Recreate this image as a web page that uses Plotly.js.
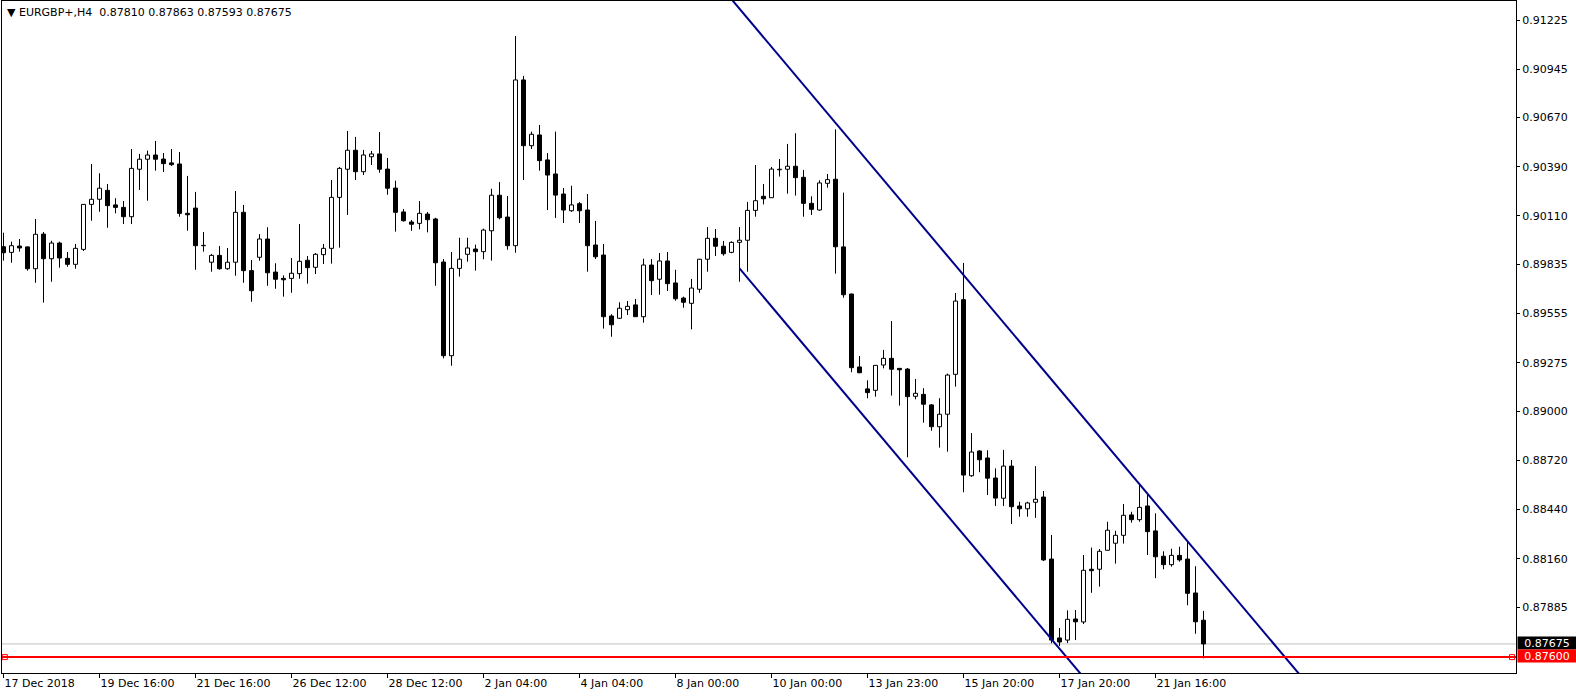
<!DOCTYPE html>
<html><head><meta charset="utf-8">
<script src="https://cdn.plot.ly/plotly-3.0.1.min.js"></script>
<style>html,body{margin:0;padding:0;background:#fff;}#chart{width:1576px;height:700px;}</style>
</head><body><div id="chart"></div>
<script>
const symbolName = "EURGBP+,H4";

const openP = [0.89935,0.89903,0.89939,0.89934,0.89810,0.90007,0.89867,0.89956,0.89869,0.89835,
0.89920,0.90176,0.90205,0.90256,0.90173,0.90159,0.90106,0.90376,0.90433,0.90457,
0.90434,0.90412,0.90406,0.90125,0.90155,0.89943,0.89847,0.89886,0.89810,0.89847,
0.90131,0.89799,0.89875,0.89979,0.89791,0.89755,0.89755,0.89782,0.89858,0.89818,
0.89890,0.89926,0.90216,0.90376,0.90484,0.90362,0.90447,0.90463,0.90377,0.90269,
0.90133,0.90076,0.90068,0.90121,0.90093,0.89848,0.89315,0.89812,0.89892,0.89922,
0.89907,0.90026,0.90228,0.90104,0.89941,0.90884,0.90510,0.90571,0.90429,0.90349,
0.90235,0.90140,0.90180,0.90144,0.89945,0.89888,0.89541,0.89528,0.89577,0.89604,
0.89537,0.89831,0.89750,0.89854,0.89729,0.89643,0.89613,0.89693,0.89864,0.89983,
0.89938,0.89903,0.89960,0.89972,0.90142,0.90222,0.90214,0.90373,0.90376,0.90393,
0.90330,0.90182,0.90144,0.90296,0.90319,0.89934,0.89666,0.89251,0.89126,0.89118,
0.89262,0.89300,0.89243,0.89239,0.89084,0.89095,0.89035,0.88911,0.88982,0.89209,
0.89634,0.88632,0.88773,0.88733,0.88619,0.88504,0.88687,0.88460,0.88444,0.88481,
0.88511,0.88158,0.87709,0.87697,0.87817,0.87800,0.88100,0.88100,0.88208,0.88248,
0.88293,0.88409,0.88382,0.88460,0.88318,0.88174,0.88126,0.88179,0.88158,0.87965,
0.87810];
const highP = [0.90015,0.89964,0.89979,0.89936,0.90093,0.90019,0.89969,0.89964,0.89905,0.89951,
0.90178,0.90406,0.90353,0.90292,0.90211,0.90195,0.90491,0.90463,0.90482,0.90537,
0.90468,0.90491,0.90474,0.90338,0.90247,0.90019,0.89894,0.89939,0.89928,0.90252,
0.90173,0.89860,0.90007,0.90046,0.89841,0.89772,0.89871,0.90064,0.89882,0.89899,
0.89951,0.90315,0.90389,0.90594,0.90560,0.90486,0.90480,0.90588,0.90440,0.90311,
0.90150,0.90087,0.90195,0.90133,0.90100,0.89865,0.89905,0.89986,0.89986,0.89947,
0.90038,0.90265,0.90303,0.90224,0.91134,0.90907,0.90590,0.90628,0.90468,0.90590,
0.90269,0.90282,0.90190,0.90235,0.90082,0.89951,0.89551,0.89619,0.89626,0.89638,
0.89867,0.89865,0.89899,0.89905,0.89804,0.89651,0.89752,0.89866,0.90047,0.90036,
0.89968,0.89966,0.90047,0.90190,0.90400,0.90292,0.90389,0.90434,0.90520,0.90581,
0.90372,0.90222,0.90313,0.90349,0.90603,0.90243,0.89668,0.89313,0.89175,0.89262,
0.89348,0.89512,0.89245,0.89245,0.89183,0.89130,0.89040,0.89073,0.89213,0.89672,
0.89843,0.88875,0.88777,0.88777,0.88674,0.88779,0.88722,0.88484,0.88484,0.88687,
0.88545,0.88295,0.87766,0.87866,0.87868,0.88181,0.88223,0.88215,0.88370,0.88319,
0.88471,0.88427,0.88585,0.88528,0.88418,0.88202,0.88217,0.88228,0.88262,0.88117,
0.87863];
const lowP = [0.89856,0.89844,0.89907,0.89799,0.89730,0.89617,0.89736,0.89816,0.89821,0.89810,
0.89911,0.90083,0.90134,0.90043,0.90125,0.90064,0.90064,0.90258,0.90197,0.90368,
0.90360,0.90395,0.90106,0.90026,0.89804,0.89907,0.89793,0.89804,0.89804,0.89770,
0.89730,0.89622,0.89856,0.89713,0.89696,0.89651,0.89673,0.89753,0.89725,0.89780,
0.89837,0.89839,0.89930,0.90116,0.90315,0.90343,0.90400,0.90356,0.90231,0.90021,
0.90078,0.90026,0.90034,0.90017,0.89713,0.89300,0.89258,0.89765,0.89850,0.89799,
0.89864,0.89856,0.90091,0.89918,0.89901,0.90315,0.90491,0.90368,0.90144,0.90099,
0.90070,0.90133,0.90070,0.89793,0.89865,0.89469,0.89423,0.89524,0.89547,0.89535,
0.89503,0.89660,0.89662,0.89683,0.89628,0.89588,0.89465,0.89673,0.89793,0.89882,
0.89884,0.89898,0.89736,0.89793,0.90106,0.90176,0.90212,0.90334,0.90237,0.90226,
0.90106,0.90116,0.90140,0.90271,0.89782,0.89645,0.89221,0.89216,0.89073,0.89082,
0.89243,0.89088,0.89031,0.88737,0.89067,0.88934,0.88888,0.88792,0.88769,0.89139,
0.88538,0.88626,0.88652,0.88522,0.88460,0.88460,0.88357,0.88399,0.88399,0.88392,
0.88147,0.87679,0.87663,0.87680,0.87697,0.87788,0.87966,0.88001,0.88206,0.88132,
0.88246,0.88365,0.88370,0.88181,0.88049,0.88100,0.88115,0.88143,0.87895,0.87733,
0.87593];
const closeP = [0.89901,0.89941,0.89928,0.89810,0.90006,0.89867,0.89956,0.89871,0.89835,0.89926,
0.90176,0.90205,0.90268,0.90169,0.90159,0.90106,0.90381,0.90433,0.90457,0.90433,
0.90408,0.90402,0.90125,0.90117,0.89941,0.89941,0.89886,0.89810,0.89847,0.90131,
0.89799,0.89685,0.89979,0.89787,0.89750,0.89747,0.89784,0.89852,0.89816,0.89892,
0.89926,0.90216,0.90381,0.90484,0.90362,0.90457,0.90463,0.90376,0.90268,0.90131,
0.90083,0.90063,0.90125,0.90089,0.89844,0.89315,0.89812,0.89864,0.89928,0.89907,
0.90030,0.90228,0.90100,0.89941,0.90884,0.90510,0.90575,0.90425,0.90343,0.90229,
0.90144,0.90173,0.90140,0.89941,0.89878,0.89537,0.89491,0.89585,0.89596,0.89537,
0.89831,0.89742,0.89854,0.89725,0.89639,0.89619,0.89700,0.89864,0.89983,0.89938,
0.89895,0.89960,0.89972,0.90142,0.90197,0.90208,0.90377,0.90376,0.90393,0.90328,
0.90182,0.90148,0.90298,0.90317,0.89935,0.89662,0.89247,0.89218,0.89105,0.89260,
0.89300,0.89238,0.89235,0.89082,0.89101,0.89039,0.88911,0.88982,0.89205,0.89626,
0.88636,0.88767,0.88723,0.88618,0.88505,0.88687,0.88456,0.88444,0.88477,0.88498,
0.88153,0.87697,0.87686,0.87815,0.87801,0.88094,0.88092,0.88202,0.88322,0.88293,
0.88407,0.88382,0.88452,0.88314,0.88171,0.88126,0.88179,0.88153,0.87963,0.87801,
0.87675];

const timeTickBars = [0,12,24,36,48,60,72,84,96,108,120,132,144];
const timeTickLabels = ["17 Dec 2018","19 Dec 16:00","21 Dec 16:00","26 Dec 12:00","28 Dec 12:00",
  "2 Jan 04:00","4 Jan 04:00","8 Jan 00:00","10 Jan 00:00","13 Jan 23:00","15 Jan 20:00",
  "17 Jan 20:00","21 Jan 16:00"];
const priceTicks = [0.91225,0.90945,0.90670,0.90390,0.90110,0.89835,0.89555,0.89275,0.89000,
  0.88720,0.88440,0.88160,0.87885];

// channel anchors (bar index, price)
const upperLineBars = [104, 150];
const upperLinePrices = [0.90640, 0.88151];
const lowerLineBars = [92, 150];
const lowerLinePrices = [0.89812, 0.86674];
const levelPrice = 0.87600;

const n = openP.length;
const bars = openP.map((_, i) => i);
const lastClose = closeP[n - 1];
const xRange = [-0.1875, 189.0625];
const yRange = [0.875096, 0.913333];
const F = "DejaVu Sans, Verdana, sans-serif";

// wicks: split into lower and upper parts so they never cross the body
const wx = [], wy = [];
for (let i = 0; i < n; i++) {
  const bLo = Math.min(openP[i], closeP[i]), bHi = Math.max(openP[i], closeP[i]);
  if (lowP[i] < bLo) { wx.push(i, i, null); wy.push(lowP[i], bLo, null); }
  if (highP[i] > bHi) { wx.push(i, i, null); wy.push(bHi, highP[i], null); }
}
const base = [], height = [], fill = [];
for (let i = 0; i < n; i++) {
  base.push(Math.min(openP[i], closeP[i]));
  height.push(Math.max(Math.abs(closeP[i] - openP[i]), 0.000012));
  fill.push(closeP[i] > openP[i] ? "#ffffff" : "#000000");
}
function extend(xs, ys, x0, x1) {
  const s = (ys[1] - ys[0]) / (xs[1] - xs[0]);
  return { x: [x0, x1], y: [ys[0] + s * (x0 - xs[0]), ys[0] + s * (x1 - xs[0])] };
}
const up = extend(upperLineBars, upperLinePrices, 80, 200);
const lo = extend(lowerLineBars, lowerLinePrices, lowerLineBars[0], 200);

const traces = [
  { type: "bar", x: bars, base: base, y: height, width: 0.5,
    marker: { color: fill, line: { color: "#000", width: 1 } }, hoverinfo: "skip" },
  { type: "scatter", mode: "lines", x: wx, y: wy, line: { color: "#000", width: 1 }, hoverinfo: "skip" },
  { type: "scatter", mode: "lines", x: up.x, y: up.y, line: { color: "#00008B", width: 2 }, hoverinfo: "skip" },
  { type: "scatter", mode: "lines", x: lo.x, y: lo.y, line: { color: "#00008B", width: 2 }, hoverinfo: "skip" },
  { type: "scatter", mode: "markers", x: [xRange[0] + 0.35, xRange[1] - 0.5], y: [levelPrice, levelPrice],
    marker: { symbol: "square", size: 5, color: "#fff", line: { color: "#ff0000", width: 1 } }, cliponaxis: false, hoverinfo: "skip" }
];

const fmt = v => v.toFixed(5);
const layout = {
  width: 1576, height: 700,
  margin: { l: 2, r: 60, t: 1, b: 27 },
  paper_bgcolor: "#fff", plot_bgcolor: "#fff",
  showlegend: false,
  xaxis: {
    range: xRange, tickvals: timeTickBars, ticktext: timeTickLabels,
    ticks: "outside", ticklen: 4, tickcolor: "#000", tickwidth: 1,
    ticklabelposition: "outside right",
    showgrid: false, zeroline: false, showline: true, linecolor: "#000", linewidth: 1, mirror: true,
    tickfont: { family: F, size: 11, color: "#000" }, fixedrange: true
  },
  yaxis: {
    side: "right", range: yRange, tickvals: priceTicks, ticktext: priceTicks.map(fmt),
    ticks: "outside", ticklen: 3, tickcolor: "#000",
    showgrid: false, zeroline: false, showline: true, linecolor: "#000", linewidth: 1, mirror: true,
    tickfont: { family: F, size: 11, color: "#000" }, fixedrange: true
  },
  shapes: [
    { type: "line", xref: "paper", x0: 0, x1: 1, yref: "y", y0: lastClose, y1: lastClose,
      line: { color: "#c0c0c0", width: 1 }, layer: "below" },
    { type: "line", xref: "paper", x0: 0, x1: 1, yref: "y", y0: levelPrice, y1: levelPrice,
      line: { color: "#ff0000", width: 2 } }
  ],
  annotations: [
    { xref: "paper", yref: "paper", x: 0, y: 1, xanchor: "left", yanchor: "top", xshift: 3, yshift: -3,
      showarrow: false, align: "left",
      text: "\u25BC " + symbolName + "  " + [openP[n-1], highP[n-1], lowP[n-1], closeP[n-1]].map(fmt).join(" "),
      font: { family: F, size: 11, color: "#000" } },
    { xref: "paper", yref: "y", x: 1, y: lastClose, xanchor: "left", yanchor: "middle", xshift: 1, yshift: 1,
      showarrow: false, text: fmt(lastClose), bgcolor: "#000", borderpad: 0, width: 58, height: 12, align: "center",
      font: { family: F, size: 11, color: "#fff" } },
    { xref: "paper", yref: "y", x: 1, y: levelPrice, xanchor: "left", yanchor: "middle", xshift: 1, yshift: 1.5,
      showarrow: false, text: fmt(levelPrice), bgcolor: "#ff0000", borderpad: 0, width: 58, height: 12, align: "center",
      font: { family: F, size: 11, color: "#fff" } }
  ]
};
Plotly.newPlot("chart", traces, layout, { displayModeBar: false, staticPlot: true });
</script></body></html>
